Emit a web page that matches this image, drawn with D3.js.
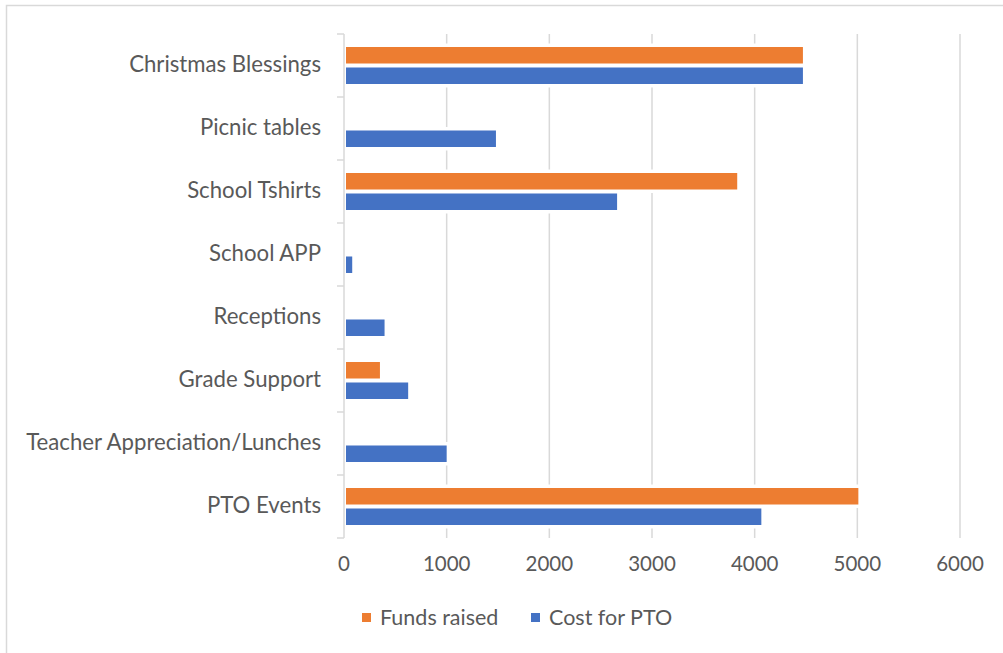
<!DOCTYPE html>
<html>
<head>
<meta charset="utf-8">
<script src="https://cdn.jsdelivr.net/npm/d3@7"></script>
<style>
  body { margin: 0; background: #fff; }
  text { font-family: Lato, "Open Sans", sans-serif; fill: #595959; }
</style>
</head>
<body>
<div id="chart"></div>
<script>
// chart data, top category first
const categories = ["Christmas Blessings", "Picnic tables", "School Tshirts", "School APP",
                    "Receptions", "Grade Support", "Teacher Appreciation/Lunches", "PTO Events"];
const fundsRaised = [4470, null, 3830, null, null, 350, null, 5010];
const costForPTO  = [4470, 1480, 2660, 80, 395, 625, 1000, 4065];
const seriesNames = ["Funds raised", "Cost for PTO"];
const seriesColors = ["#ED7D31", "#4472C4"];
const xTicks = [0, 1000, 2000, 3000, 4000, 5000, 6000];

(function() {
  var width = 1003,
      height = 653;

  const svg = d3.select("#chart").append("svg")
                .attr("width", width)
                .attr("height", height);

  // outer chart frame (right/bottom sit off the page)
  svg.append("rect")
     .attr("x", 6.5).attr("y", 5.5)
     .attr("width", 1010).attr("height", 660)
     .attr("fill", "none")
     .attr("stroke", "#D9D9D9")
     .attr("stroke-width", 1.5);

  var x = d3.scaleLinear().domain([0, 6000]).range([344, 960]);
  var y = d3.scaleBand().domain(categories).range([34, 538])
            .paddingInner(0.413).paddingOuter(0.2065);
  var ySub = d3.scaleBand().domain(seriesNames).range([0, y.bandwidth()]).paddingInner(0.195);

  // vertical gridlines
  svg.append("g")
     .selectAll("line")
     .data(xTicks.slice(1))
     .join("line")
     .attr("x1", d => x(d)).attr("x2", d => x(d))
     .attr("y1", 34).attr("y2", 538)
     .attr("stroke", "#D9D9D9")
     .attr("stroke-width", 1.5);

  // bars
  const rows = [];
  categories.forEach((c, i) => {
    [fundsRaised[i], costForPTO[i]].forEach((v, s) => {
      if (v != null) rows.push({cat: c, series: seriesNames[s], color: seriesColors[s], value: v});
    });
  });

  svg.append("g")
     .selectAll("rect")
     .data(rows)
     .join("rect")
     .attr("x", x(0) + 2)
     .attr("y", d => y(d.cat) + ySub(d.series))
     .attr("width", d => x(d.value) - x(0) - 2)
     .attr("height", ySub.bandwidth())
     .attr("fill", d => d.color)
     .attr("stroke", "#fff")
     .attr("stroke-width", 7)
     .style("paint-order", "stroke");

  // category axis line + ticks
  const axisG = svg.append("g").attr("stroke", "#D9D9D9").attr("stroke-width", 1.5);
  axisG.append("line")
       .attr("x1", x(0)).attr("x2", x(0))
       .attr("y1", 34).attr("y2", 538);
  const bounds = categories.map(c => y(c) - y.step() * y.paddingOuter())
                           .concat([538]);
  axisG.selectAll("line.tick")
       .data(bounds)
       .join("line")
       .attr("class", "tick")
       .attr("x1", x(0) - 7).attr("x2", x(0))
       .attr("y1", d => d).attr("y2", d => d);

  // category labels
  svg.append("g")
     .selectAll("text")
     .data(categories)
     .join("text")
     .attr("x", 321)
     .attr("y", d => y(d) + y.bandwidth() / 2)
     .attr("dy", "0.3em")
     .attr("text-anchor", "end")
     .attr("font-size", 22.2)
     .text(d => d);

  // value labels
  svg.append("g")
     .selectAll("text")
     .data(xTicks)
     .join("text")
     .attr("x", d => x(d))
     .attr("y", 571)
     .attr("text-anchor", "middle")
     .attr("font-size", 20.5)
     .text(d => d);

  // legend
  const legendX = [362, 531];
  const legend = svg.append("g")
                    .selectAll("g")
                    .data(seriesNames)
                    .join("g")
                    .attr("transform", (d, i) => `translate(${legendX[i]},613)`);
  legend.append("rect")
        .attr("width", 9).attr("height", 9)
        .attr("fill", (d, i) => seriesColors[i]);
  legend.append("text")
        .attr("x", 18).attr("y", 12)
        .attr("font-size", 21.5)
        .text(d => d);
})();
</script>
</body>
</html>
